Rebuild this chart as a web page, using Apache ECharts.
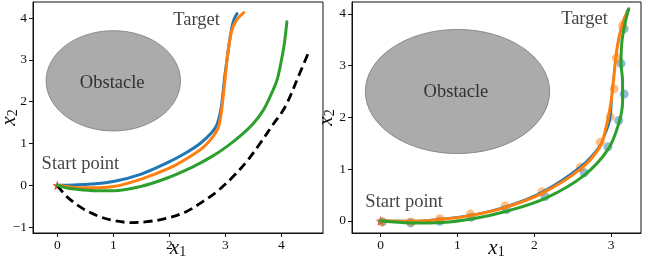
<!DOCTYPE html>
<html>
<head>
<meta charset="utf-8">
<script src="https://cdn.jsdelivr.net/npm/echarts@6/dist/echarts.min.js"></script>
<style>
html,body{margin:0;padding:0;background:#fff;}
#chart{width:649px;height:267px;}
</style>
</head>
<body>
<div id="chart"></div>
<script>
// ---------- data ----------
const xTicksLeft = [0, 1, 2, 3, 4];
const yTicksLeft = [-1, 0, 1, 2, 3, 4];
const xTicksRight = [0, 1, 2, 3];
const yTicksRight = [0, 1, 2, 3, 4];

const obstacle = [[1.0, 2.5, 1.2]]; // centre x, centre y, radius
const startPoint = [[0, 0]];

const leftDashed = [[0,0],[0.17,-0.27],[0.45,-0.55],[0.76,-0.75],[1.05,-0.85],[1.3,-0.89],[1.6,-0.87],[1.95,-0.79],[2.3,-0.63],[2.55,-0.43],[2.85,-0.15],[3.14,0.21],[3.4,0.6],[3.62,1.0],[3.85,1.45],[4.07,1.88],[4.33,2.68],[4.5,3.22]];
const leftBlue = [[0,0],[0.3,0.01],[0.6,0.03],[1.0,0.09],[1.5,0.27],[1.95,0.53],[2.3,0.78],[2.55,1.0],[2.75,1.25],[2.85,1.45],[2.92,1.8],[2.95,2.1],[2.99,2.6],[3.03,3.0],[3.07,3.4],[3.11,3.72],[3.15,3.95],[3.21,4.11]];
const leftOrange = [[0,0],[0.3,-0.05],[0.6,-0.06],[1.0,-0.03],[1.5,0.15],[2.0,0.41],[2.3,0.63],[2.6,0.9],[2.8,1.2],[2.88,1.4],[2.93,1.75],[2.96,2.1],[3.0,2.6],[3.03,3.0],[3.07,3.4],[3.12,3.72],[3.2,3.95],[3.33,4.13]];
const leftGreen = [[0,0],[0.2,-0.07],[0.46,-0.11],[0.75,-0.13],[1.0,-0.13],[1.48,-0.03],[1.95,0.17],[2.43,0.45],[2.75,0.68],[3.02,0.92],[3.3,1.22],[3.5,1.48],[3.68,1.8],[3.8,2.12],[3.92,2.5],[3.98,2.84],[4.05,3.35],[4.10,3.91]];

const rightBlueDots = [[0.02,-0.02],[0.39,-0.04],[0.77,-0.01],[1.18,0.07],[1.64,0.22],[2.14,0.47],[2.65,0.93],[2.96,1.43],[3.10,1.94],[3.17,2.45],[3.13,3.04],[3.17,3.71]];
const rightOrangeDots = [[0.02,-0.02],[0.39,-0.02],[0.77,0.04],[1.17,0.13],[1.62,0.29],[2.10,0.56],[2.60,1.03],[2.86,1.52],[2.99,2.01],[3.04,2.55],[3.07,3.15],[3.15,3.77]];
const rightBlue = [[0,0],[0.4,0.0],[0.8,0.04],[1.2,0.12],[1.65,0.29],[2.1,0.56],[2.6,1.05],[2.85,1.45],[2.97,1.85],[3.0,2.1],[3.02,2.6],[3.06,3.1],[3.1,3.54],[3.16,3.85],[3.21,4.07]];
const rightOrange = [[0,0],[0.4,-0.01],[0.8,0.03],[1.2,0.11],[1.65,0.27],[2.1,0.53],[2.6,1.0],[2.85,1.42],[2.94,1.84],[3.0,2.3],[3.03,2.69],[3.08,3.35],[3.16,3.87],[3.23,4.08]];
const rightGreen = [[0,0],[0.4,-0.04],[0.8,-0.03],[1.2,0.04],[1.65,0.19],[2.15,0.44],[2.65,0.88],[2.96,1.38],[3.1,1.88],[3.15,2.3],[3.15,2.7],[3.13,3.05],[3.14,3.45],[3.18,3.8],[3.23,4.1]];

const annotLeft = [
  {text: 'Target', x: 2.07, y: 3.95, pos: 'right'},
  {text: 'Obstacle', x: 0.98, y: 2.44, pos: 'inside'},
  {text: 'Start point', x: -0.28, y: 0.5, pos: 'right'}
];
const annotRight = [
  {text: 'Target', x: 2.35, y: 3.9, pos: 'right'},
  {text: 'Obstacle', x: 0.98, y: 2.48, pos: 'inside'},
  {text: 'Start point', x: -0.2, y: 0.37, pos: 'right'}
];

// ---------- styling ----------
const C_BLUE = '#1f77b4', C_ORANGE = '#ff7f0e', C_GREEN = '#2ca02c';
const SERIF = '"Liberation Serif", "DejaVu Serif", serif';
const STAR = 'path://M50,0 L61.8,35.4 L99,35.4 L69,57.3 L80.3,92.7 L50,70.8 L19.7,92.7 L31,57.3 L1,35.4 L38.2,35.4 Z';

const nameRich = () => ({
  i: {fontFamily: SERIF, fontStyle: 'italic', fontSize: 21, color: '#111'},
  s: {fontFamily: SERIF, fontSize: 14, color: '#111', padding: [8, 0, 0, 0]}
});

function makeX(idx, min, max, ticks) {
  return {
    type: 'value', gridIndex: idx, min: min, max: max,
    name: '{i|x}{s|1}', nameLocation: 'middle', nameGap: 4, nameMoveOverlap: false,
    nameTextStyle: {rich: nameRich()},
    axisLine: {show: true, onZero: false, lineStyle: {color: '#111', width: 1}},
    axisTick: {show: true, inside: false, length: 4, customValues: ticks, lineStyle: {color: '#111'}},
    axisLabel: {show: true, customValues: ticks, margin: 5, fontFamily: SERIF, fontSize: 13.5, color: '#111',
      formatter: v => (v < 0 ? '\u2212' + Math.abs(v) : String(v))},
    splitLine: {show: false}
  };
}
function makeY(idx, min, max, ticks, gap) {
  return {
    type: 'value', gridIndex: idx, min: min, max: max,
    name: '{i|x}{s|2}', nameLocation: 'middle', nameGap: gap, nameRotate: 90, nameMoveOverlap: false,
    nameTextStyle: {rich: nameRich()},
    axisLine: {show: true, onZero: false, lineStyle: {color: '#111', width: 1}},
    axisTick: {show: true, inside: false, length: 4, customValues: ticks, lineStyle: {color: '#111'}},
    axisLabel: {show: true, customValues: ticks, margin: 6, fontFamily: SERIF, fontSize: 13.5, color: '#111',
      formatter: v => (v < 0 ? '\u2212' + Math.abs(v) : String(v))},
    splitLine: {show: false}
  };
}

function obstacleSeries(idx) {
  return {
    type: 'custom', xAxisIndex: idx, yAxisIndex: idx, z: 1, silent: true,
    data: obstacle,
    renderItem: function (params, api) {
      const c = api.coord([api.value(0), api.value(1)]);
      const s = api.size([api.value(2), api.value(2)]);
      return {
        type: 'ellipse',
        shape: {cx: c[0], cy: c[1], rx: s[0], ry: s[1]},
        style: {fill: 'rgba(128,128,128,0.66)', stroke: 'rgba(110,110,110,0.7)', lineWidth: 1}
      };
    }
  };
}
function lineSeries(idx, data, color, width, extra) {
  return Object.assign({
    type: 'line', xAxisIndex: idx, yAxisIndex: idx, data: data,
    showSymbol: false, symbol: 'none', smooth: 0.35, z: 5, silent: true,
    lineStyle: {color: color, width: width, cap: 'round', join: 'round'}
  }, extra || {});
}
function dotSeries(idx, data, color) {
  return {
    type: 'scatter', xAxisIndex: idx, yAxisIndex: idx, data: data, z: 3, silent: true,
    symbolSize: 9, itemStyle: {color: color, opacity: 0.5}
  };
}
function starSeries(idx) {
  return {
    type: 'scatter', xAxisIndex: idx, yAxisIndex: idx, data: startPoint, z: 2, silent: true,
    symbol: STAR, symbolSize: 10, itemStyle: {color: '#ff0000'}
  };
}
function textSeries(idx, list) {
  return {
    type: 'scatter', xAxisIndex: idx, yAxisIndex: idx, z: 10, silent: true,
    symbolSize: 0,
    data: list.map(a => ({
      value: [a.x, a.y],
      label: {show: true, position: a.pos, distance: 0, formatter: a.text,
        fontFamily: SERIF, fontSize: 18.5, color: '#111'}
    }))
  };
}

const chart = echarts.init(document.getElementById('chart'), null, {renderer: 'canvas'});
chart.setOption({
  animation: false,
  backgroundColor: '#fff',
  grid: [
    {left: 33, top: 2, width: 290, height: 231, show: true, borderColor: '#111', borderWidth: 1, backgroundColor: 'transparent', containLabel: false, outerBoundsMode: 'none'},
    {left: 352, top: 2, width: 289, height: 231, show: true, borderColor: '#111', borderWidth: 1, backgroundColor: 'transparent', containLabel: false, outerBoundsMode: 'none'}
  ],
  xAxis: [makeX(0, -0.434, 4.745, xTicksLeft), makeX(1, -0.374, 3.39, xTicksRight)],
  yAxis: [makeY(0, -1.14, 4.385, yTicksLeft, 13), makeY(1, -0.235, 4.23, yTicksRight, 15)],
  series: [
    obstacleSeries(0),
    lineSeries(0, leftDashed, '#000', 2.8, {lineStyle: {color: '#000', width: 2.8, type: [9, 5]}, z: 4}),
    lineSeries(0, leftBlue, C_BLUE, 3),
    lineSeries(0, leftOrange, C_ORANGE, 3),
    lineSeries(0, leftGreen, C_GREEN, 3),
    starSeries(0),
    textSeries(0, annotLeft),

    obstacleSeries(1),
    starSeries(1),
    dotSeries(1, rightBlueDots, C_BLUE),
    dotSeries(1, rightOrangeDots, C_ORANGE),
    lineSeries(1, rightBlue, C_BLUE, 2),
    lineSeries(1, rightOrange, C_ORANGE, 3),
    lineSeries(1, rightGreen, C_GREEN, 3),
    textSeries(1, annotRight)
  ]
});
</script>
</body>
</html>
